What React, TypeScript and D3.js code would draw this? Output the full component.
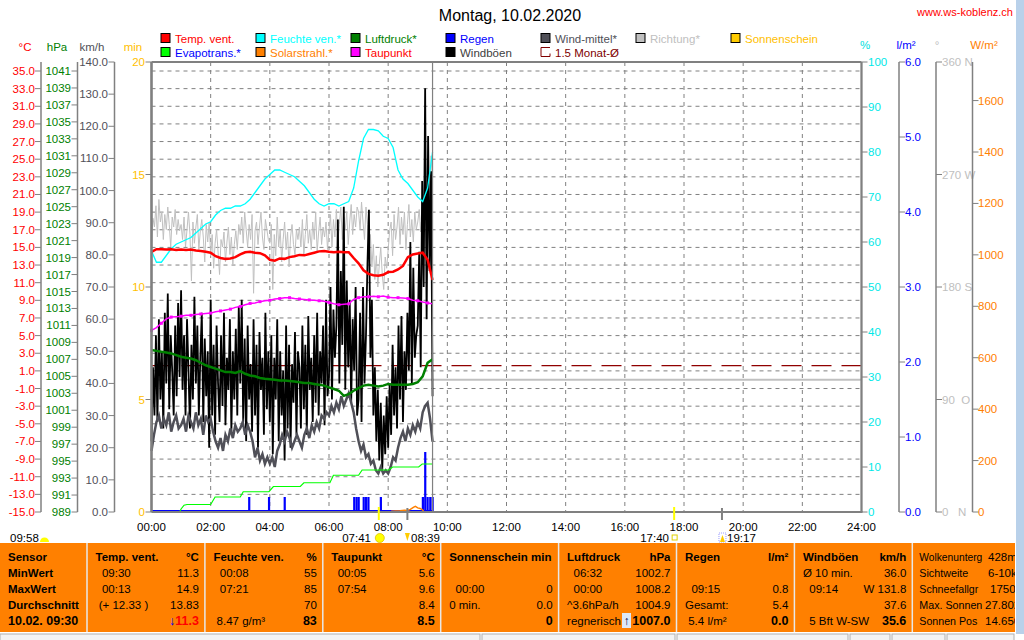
import React from "react";
import * as d3 from "d3";

const FONT = "'Liberation Sans', Arial, Helvetica, sans-serif";

// ---------------- DATA ----------------
const HOUR_TICKS = [0, 2, 4, 6, 8, 10, 12, 14, 16, 18, 20, 22, 24];
const HOUR_LABELS = ["00:00", "02:00", "04:00", "06:00", "08:00", "10:00", "12:00", "14:00", "16:00", "18:00", "20:00", "22:00", "24:00"];
const TEMP_TICKS = [35, 33, 31, 29, 27, 25, 23, 21, 19, 17, 15, 13, 11, 9, 7, 5, 3, 1, -1, -3, -5, -7, -9, -11, -13, -15];
const HPA_TICKS = [1041, 1039, 1037, 1035, 1033, 1031, 1029, 1027, 1025, 1023, 1021, 1019, 1017, 1015, 1013, 1011, 1009, 1007, 1005, 1003, 1001, 999, 997, 995, 993, 991, 989];
const KMH_TICKS = [140, 130, 120, 110, 100, 90, 80, 70, 60, 50, 40, 30, 20, 10, 0];
const MIN_TICKS = [20, 15, 10, 5, 0];
const HUM_TICKS = [100, 90, 80, 70, 60, 50, 40, 30, 20, 10, 0];
const RAIN_TICKS = [6, 5, 4, 3, 2, 1, 0];
const DIR_TICKS = [360, 270, 180, 90, 0];
const DIR_LABELS = ["360 N", "270 W", "180 S", "90  O", "0   N"];
const SOLAR_TICKS = [1600, 1400, 1200, 1000, 800, 600, 400, 200, 0];

// 10-minute series (00:00 .. 09:30)
const TEMP_10MIN = [14.5, 14.8, 14.8, 14.75, 14.8, 14.7, 14.75, 14.7, 14.75, 14.65, 14.6, 14.5,
  14.4, 14.0, 13.8, 13.7, 13.75, 13.9, 14.2, 14.45, 14.5, 14.4, 14.35, 14.1,
  13.6, 13.5, 13.75, 13.7, 13.9, 14.0, 14.15, 14.1, 14.25, 14.4, 14.55, 14.6,
  14.5, 14.45, 14.5, 14.45, 14.45, 13.8, 13.2, 12.4, 12.0, 11.85, 11.8, 11.9,
  12.2, 12.25, 12.5, 12.9, 13.9, 14.2, 14.3, 14.4, 13.6, 11.3];
const DEW_10MIN = [5.6, 5.9, 6.4, 6.9, 7.1, 7.15, 7.2, 7.3, 7.3, 7.4, 7.45, 7.5,
  7.55, 7.7, 7.8, 7.9, 8.0, 8.2, 8.3, 8.5, 8.65, 8.7, 8.85, 8.95,
  9.0, 9.15, 9.2, 9.3, 9.3, 9.2, 9.15, 9.1, 9.05, 9.0, 8.95, 8.9,
  8.75, 8.6, 8.5, 8.55, 8.6, 9.1, 9.3, 9.4, 9.4, 9.45, 9.4, 9.5,
  9.35, 9.3, 9.3, 9.25, 9.2, 9.0, 8.95, 8.8, 8.7, 8.6];
const HUM_10MIN = [58, 55.5, 55.5, 57, 58.5, 59.5, 60, 60.5, 61, 62, 63, 64,
  64.5, 66, 67, 67.5, 67.5, 68, 68, 68.5, 69.5, 71, 72.5, 74,
  75, 76, 76, 75.5, 75, 74.5, 73.5, 72.5, 71, 69.5, 68.5, 68,
  68.5, 68.5, 68, 68.5, 69, 72, 78, 83, 85, 85, 84.7, 83.5,
  83, 81, 76, 74, 73, 71.5, 70, 69, 72, 80];
const PRESS_10MIN = [1008.1, 1008.0, 1007.9, 1007.8, 1007.7, 1007.5, 1007.3, 1007.2, 1007.1, 1006.9, 1006.6, 1006.3,
  1006.1, 1005.9, 1005.7, 1005.5, 1005.5, 1005.4, 1005.6, 1005.3, 1005.1, 1005.0, 1004.8, 1004.7,
  1004.65, 1004.6, 1004.5, 1004.5, 1004.45, 1004.4, 1004.3, 1004.2, 1004.2, 1004.1, 1004.0, 1003.9,
  1003.7, 1003.5, 1003.3, 1002.7, 1002.9, 1003.3, 1003.6, 1003.9, 1004.0, 1003.9, 1003.8, 1003.9,
  1004.1, 1004.0, 1004.0, 1004.0, 1004.0, 1004.1, 1004.3, 1005.0, 1006.6, 1007.0];

// 3-minute wind gusts (km/h)
const GUST_3MIN = [
  22, 45, 30, 55, 28, 60, 35, 50, 26, 62, 40, 68, 32, 55, 44, 30, 58, 36, 65, 42,
  69, 38, 55, 30, 60, 44, 26, 52, 35, 67, 40, 58, 30, 48, 62, 28, 54, 36, 50, 20,
  66, 30, 52, 24, 58, 40, 28, 55, 33, 62, 27, 48, 38, 60, 25, 50, 35, 57, 30, 64,
  40, 66, 28, 54, 22, 58, 35, 46, 25, 60, 30, 52, 20, 56, 38, 48, 24, 62, 32, 50,
  28, 55, 18, 48, 35, 60, 22, 50, 30, 44, 16, 58, 26, 52, 20, 46, 34, 56, 24, 50,
  45, 26, 58, 32, 52, 24, 61, 38, 48, 28, 55, 34, 62, 30, 50, 40, 58, 27, 66, 36,
  42, 70, 35, 63, 48, 58, 91, 40, 75, 52, 95, 38, 72, 45, 66, 34, 60, 44, 70, 30,
  35, 62, 28, 70, 40, 55, 77, 94, 48, 66, 30, 45, 22, 38, 16, 34, 13, 30, 18, 36,
  20, 40, 24, 52, 30, 45, 26, 58, 35, 61, 28, 50, 38, 62, 44, 84, 40, 76, 48, 55,
  58, 81, 45, 103, 70, 131.8, 60, 117, 75, 106, 36];

// 5-minute mean wind (km/h)
const WINDMEAN_5MIN = [
  19, 24, 28, 30, 26, 29, 27, 31, 25, 28, 30, 26,
  27, 29, 25, 30, 28, 26, 31, 27, 29, 24, 30, 28,
  29, 25, 22, 20, 23, 19, 24, 22, 26, 23, 27, 25,
  26, 28, 24, 27, 25, 22, 17, 20, 16, 18, 15, 17,
  15, 17, 14, 19, 21, 24, 22, 25, 23, 20, 22, 24,
  22, 20, 24, 26, 23, 27, 25, 28, 26, 30, 29, 31,
  30, 33, 31, 34, 32, 36, 33, 35, 37, 34, 31, 26,
  22, 19, 21, 17, 18, 15, 16, 13, 12, 14, 12, 13,
  12, 14, 17, 16, 20, 23, 25, 22, 26, 24, 27, 25,
  28, 26, 31, 33, 34, 29, 22];

// 3-minute wind direction (deg)
const DIR_3MIN = [
  215, 235, 228, 245, 220, 250, 232, 240, 218, 238, 226, 244, 230, 212, 236, 228, 242, 222, 234, 225,
  230, 218, 236, 212, 226, 240, 222, 185, 232, 215, 228, 238, 210, 225, 234, 220, 200, 230, 216, 232,
  205, 222, 195, 215, 226, 208, 190, 218, 212, 224, 200, 216, 228, 206, 220, 198, 214, 225, 210, 230,
  222, 236, 215, 240, 226, 212, 230, 218, 238, 175, 225, 232, 214, 228, 240, 220, 210, 234, 226, 218,
  215, 230, 178, 222, 205, 236, 212, 226, 200, 218, 232, 210, 224, 196, 220, 230, 214, 206, 226, 218,
  228, 212, 234, 206, 222, 238, 215, 226, 210, 232, 218, 240, 208, 224, 236, 214, 228, 220, 232, 210,
  225, 238, 212, 234, 220, 242, 216, 230, 244, 218, 236, 226, 240, 214, 232, 246, 222, 238, 228, 244,
  240, 226, 248, 232, 218, 244, 230, 210, 222, 196, 214, 186, 205, 180, 198, 212, 190, 178, 204, 195,
  210, 225, 232, 205, 238, 218, 228, 244, 214, 236, 222, 240, 210, 230, 246, 220, 234, 216, 240, 226,
  232, 242, 224, 250, 238, 256, 240, 268, 250, 285, 262];

const RAIN_TIMES = [3.30, 3.97, 4.50, 6.85, 6.93, 7.00, 7.17, 7.25, 7.33, 7.75, 9.17, 9.25, 9.33, 9.42, 9.50];
const RAIN_VALUES = [0.2, 0.2, 0.2, 0.2, 0.2, 0.2, 0.2, 0.2, 0.2, 0.2, 0.2, 0.8, 0.2, 0.2, 0.2];

const EVAPO_TIMES = [0, 0.95, 1.0, 1.1, 1.2, 2.0, 2.15, 3.0, 3.1, 3.97, 4.12, 5.03, 5.15, 6.03, 6.15, 7.0, 7.12, 8.02, 8.15, 9.03, 9.15, 9.5];
const EVAPO_VALUES = [0, 0, 0.04, 0.09, 0.1, 0.1, 0.2, 0.2, 0.27, 0.27, 0.34, 0.34, 0.39, 0.39, 0.49, 0.49, 0.56, 0.56, 0.6, 0.6, 0.64, 0.64];

const SOLAR_TIMES = [8.1, 8.25, 8.4, 8.55, 8.65, 8.75, 8.85, 8.92, 9.0, 9.08, 9.15, 9.2];
const SOLAR_VALUES = [3, 4, 5, 7, 6, 10, 18, 22, 16, 14, 9, 4];

const TEMP_AVG_15M = 1.6; // 1.5 Monat-Ø (°C)
const PRESS_REF = 1004.6; // grey reference line (hPa)
const NOW_HOUR = 9.5;

const SUN_EVENTS = [7 + 41 / 60, 17 + 40 / 60];
const MOON_EVENTS = [8 + 39 / 60, 19 + 17 / 60];

const LEGEND_ROW1 = [
  { box: "#ff0000", label: "Temp. vent.", text: "#ff0000" },
  { box: "#00ffff", label: "Feuchte ven.*", text: "#00ffff" },
  { box: "#008000", label: "Luftdruck*", text: "#008000" },
  { box: "#0000ff", label: "Regen", text: "#0000ff" },
  { box: "#505058", label: "Wind-mittel*", text: "#505058" },
  { box: "#c0c0c0", label: "Richtung*", text: "#c0c0c0" },
  { box: "#ffcc00", label: "Sonnenschein", text: "#ffc000" },
];
const LEGEND_ROW2 = [
  { box: "#00ff00", label: "Evapotrans.*", text: "#0000ff" },
  { box: "#ff8000", label: "Solarstrahl.*", text: "#ff8000" },
  { box: "#ff00ff", label: "Taupunkt", text: "#ff0000" },
  { box: "#000000", label: "Windböen", text: "#404040" },
  { box: "none", label: "1.5 Monat-Ø", text: "#800000" },
];

const TABLE_HEADERS = ["Temp. vent.", "Feuchte ven.", "Taupunkt", "Sonnenschein min", "Luftdruck", "Regen", "Windböen"];
const TABLE_UNITS = ["°C", "%", "°C", "", "hPa", "l/m²", "km/h"];
const TABLE_ROWNAMES = ["Sensor", "MinWert", "MaxWert", "Durchschnitt", "10.02. 09:30"];
const TABLE_LEFT = [
  ["  09:30", "  00:13", " (+ 12.33 )", ""],
  ["  00:08", "  07:21", "", " 8.47 g/m³"],
  ["  00:05", "  07:54", "", ""],
  ["", "  00:00", "0 min.", ""],
  ["  06:32", "  00:00", "^3.6hPa/h", "regnerisch"],
  ["", "  09:15", "Gesamt:", " 5.4 l/m²"],
  ["Ø 10 min.", "  09:14", "", "  5 Bft W-SW"],
];
const TABLE_RIGHT = [
  ["11.3", "14.9", "13.83", "11.3"],
  ["55", "85", "70", "83"],
  ["5.6", "9.6", "8.4", "8.5"],
  ["", "0", "0.0", "0"],
  ["1002.7", "1008.2", "1004.9", "1007.0"],
  ["", "0.8", "5.4", "0.0"],
  ["36.0", "W 131.8", "37.6", "35.6"],
];
const EXTRA_NAMES = ["Wolkenunterg", "Sichtweite", "Schneefallgr", "Max. Sonnen", "Sonnen Pos"];
const EXTRA_VALUES = ["428m", "6-10km", "1750m", "27.802", "14.650"];

// layout (not data): rendered widths of the extra column labels
const EXTRA_NAME_WIDTHS = [63, 49, 59, 63, 58];
const EXTRA_VALUE_X = [988, 988, 990, 985, 985];

// ---------------- SCALES ----------------
const PL = 151.5, PR = 861.5, PT = 62, PB = 512;
const x = d3.scaleLinear().domain([0, 24]).range([PL, PR]);
const yT = d3.scaleLinear().domain([-15, 35]).range([PB, 71]);
const yP = d3.scaleLinear().domain([989, 1041]).range([PB, 71]);
const yK = d3.scaleLinear().domain([0, 140]).range([PB, PT]);
const yM = d3.scaleLinear().domain([0, 20]).range([PB, PT]);
const yH = d3.scaleLinear().domain([0, 100]).range([PB, PT]);
const yR = d3.scaleLinear().domain([0, 6]).range([PB, PT]);
const yD = d3.scaleLinear().domain([0, 360]).range([PB, PT]);
const yS = d3.scaleLinear().domain([0, 1750]).range([PB, PT]);

const regPath = (vals: number[], stepH: number, y: (v: number) => number) =>
  d3.line<number>().x((_, i) => x(i * stepH)).y((d) => y(d))(vals) || "";
const pairPath = (ts: number[], vs: number[], y: (v: number) => number) =>
  d3.line<number>().x((t) => x(t)).y((_, i) => y(vs[i]))(ts) || "";

const AX = "#808080";

function VAxis({ lx, ticks, labels, scale, color, side, labelX, top = PT }: any) {
  return (
    <g>
      <line x1={lx} x2={lx} y1={top} y2={PB} stroke={AX} strokeWidth={1.5} />
      {ticks.map((t: number, i: number) => {
        const yy = scale(t);
        return (
          <g key={i}>
            <line x1={side === "left" ? lx - 6 : lx} x2={side === "left" ? lx : lx + 6} y1={yy} y2={yy} stroke={AX} strokeWidth={1} />
            <text x={labelX} y={yy} fill={color} fontSize={11.5} textAnchor={side === "left" ? "end" : "start"}
              dominantBaseline="central" style={{ whiteSpace: "pre" }}>{labels[i]}</text>
          </g>
        );
      })}
    </g>
  );
}

export default function App() {
  const colX = (k: number) => (k === 0 ? 0 : 87 + (k - 1) * 117.9);
  const rowY = (r: number) => 557 + r * 16;

  return (
    <div style={{ position: "absolute", left: 0, top: 0 }}>
      <svg width={1024} height={640} style={{ display: "block", fontFamily: FONT }}>
        <rect x={0} y={0} width={1024} height={640} fill="#ffffff" />

        {/* Title */}
        <text x={510} y={21} fontSize={16} textAnchor="middle" fill="#000">Montag, 10.02.2020</text>
        <text x={1013} y={16} fontSize={11} textAnchor="end" fill="#ff0000">www.ws-koblenz.ch</text>

        {/* Legend */}
        {[LEGEND_ROW1, LEGEND_ROW2].map((row, ri) =>
          row.map((it, ci) => {
            const lx = 161 + ci * 95;
            const ly = 33.5 + ri * 14;
            return (
              <g key={`${ri}-${ci}`}>
                {it.box === "none" ? (
                  <path d={`M${lx + 9},${ly} H${lx} V${ly + 9} H${lx + 9} V${ly + 6}`} fill="none" stroke="#800000" strokeWidth={1} />
                ) : (
                  <rect x={lx} y={ly} width={9} height={9} fill={it.box} stroke="#000" strokeWidth={1} />
                )}
                <text x={lx + 14} y={ly + 5} fontSize={11.5} fill={it.text} dominantBaseline="central">{it.label}</text>
              </g>
            );
          })
        )}

        {/* Unit labels */}
        <g fontSize={11.5} dominantBaseline="central">
          <text x={25} y={47} fill="#ff0000" textAnchor="middle">°C</text>
          <text x={57} y={47} fill="#008000" textAnchor="middle">hPa</text>
          <text x={92} y={47} fill="#505058" textAnchor="middle">km/h</text>
          <text x={133} y={47} fill="#ffc000" textAnchor="middle">min</text>
          <text x={865} y={45} fill="#00e0e0" textAnchor="middle">%</text>
          <text x={906} y={45} fill="#0000ff" textAnchor="middle">l/m²</text>
          <text x={937} y={45} fill="#c0c0c0" textAnchor="middle">°</text>
          <text x={984} y={45} fill="#ff8000" textAnchor="middle">W/m²</text>
        </g>

        {/* Grid */}
        {TEMP_TICKS.filter((t) => t > -15).map((t, i) => (
          <line key={`hg${i}`} x1={PL} x2={PR} y1={yT(t)} y2={yT(t)} stroke="#808080" strokeWidth={1} strokeDasharray="4,4" />
        ))}
        {HOUR_TICKS.filter((h) => h > 0 && h < 24).map((h, i) => (
          <line key={`vg${i}`} x1={x(h)} x2={x(h)} y1={PT} y2={PB} stroke="#808080" strokeWidth={1} strokeDasharray="4,4" />
        ))}

        {/* reference lines */}
        <line x1={PL} x2={PR} y1={yP(PRESS_REF)} y2={yP(PRESS_REF)} stroke="#c0c0c0" strokeWidth={2} />
        <line x1={PL} x2={PR} y1={yT(TEMP_AVG_15M)} y2={yT(TEMP_AVG_15M)} stroke="#900000" strokeWidth={1.3} strokeDasharray="20,10" />

        {/* Series */}
        <path d={regPath(DIR_3MIN, 0.05, yD)} fill="none" stroke="#c0c0c0" strokeWidth={1} />
        <path d={regPath(GUST_3MIN, 0.05, yK)} fill="none" stroke="#000" strokeWidth={1.8} />
        <path d={regPath(WINDMEAN_5MIN, 1 / 12, yK)} fill="none" stroke="#505058" strokeWidth={2.5} />
        <line x1={x(0)} x2={x(NOW_HOUR)} y1={PB - 1} y2={PB - 1} stroke="#0000ff" strokeWidth={2} />
        {RAIN_TIMES.map((t, i) => (
          <rect key={`r${i}`} x={x(t) - 1} y={yR(RAIN_VALUES[i])} width={2.2} height={PB - yR(RAIN_VALUES[i])} fill="#0000ff" />
        ))}
        <path d={pairPath(EVAPO_TIMES, EVAPO_VALUES, yR)} fill="none" stroke="#00ff00" strokeWidth={1.2} />
        <path d={pairPath(SOLAR_TIMES, SOLAR_VALUES, yS)} fill="none" stroke="#ff8000" strokeWidth={1.5} />
        <path d={regPath(HUM_10MIN, 1 / 6, yH)} fill="none" stroke="#00ffff" strokeWidth={1.3} />
        <path d={regPath(DEW_10MIN, 1 / 6, yT)} fill="none" stroke="#ff00ff" strokeWidth={1.5} />
        {DEW_10MIN.map((v, i) => (i % 2 === 0 ? <rect key={`dm${i}`} x={x(i / 6) - 1.5} y={yT(v) - 1.5} width={3} height={3} fill="#ff00ff" /> : null))}
        <path d={regPath(PRESS_10MIN, 1 / 6, yP)} fill="none" stroke="#008000" strokeWidth={2.5} />
        <path d={regPath(TEMP_10MIN, 1 / 6, yT)} fill="none" stroke="#ff0000" strokeWidth={2.5} />

        {/* now line */}
        <line x1={x(NOW_HOUR)} x2={x(NOW_HOUR)} y1={PT} y2={PB} stroke="#808080" strokeWidth={1.2} />

        {/* Plot frame */}
        <line x1={PL} x2={PR} y1={PT} y2={PT} stroke={AX} strokeWidth={2} />
        <line x1={PL} x2={PR + 1} y1={PB} y2={PB} stroke={AX} strokeWidth={2} />
        <line x1={PL} x2={PL} y1={PT} y2={PB} stroke={AX} strokeWidth={2.5} />
        <line x1={PR} x2={PR} y1={PT} y2={PB} stroke={AX} strokeWidth={2} />

        {/* Left axes */}
        <VAxis lx={41} ticks={TEMP_TICKS} labels={TEMP_TICKS.map((t) => t.toFixed(1))} scale={yT} color="#ff0000" side="left" labelX={35} />
        <VAxis lx={77.5} ticks={HPA_TICKS} labels={HPA_TICKS.map(String)} scale={yP} color="#008000" side="left" labelX={71} />
        <VAxis lx={114.5} ticks={KMH_TICKS} labels={KMH_TICKS.map((t) => t.toFixed(1))} scale={yK} color="#505058" side="left" labelX={108} />
        <VAxis lx={PL} ticks={MIN_TICKS} labels={MIN_TICKS.map(String)} scale={yM} color="#ffc000" side="left" labelX={145} />

        {/* Right axes */}
        <VAxis lx={PR} ticks={HUM_TICKS} labels={HUM_TICKS.map(String)} scale={yH} color="#00e8e8" side="right" labelX={868} />
        <VAxis lx={899} ticks={RAIN_TICKS} labels={RAIN_TICKS.map((t) => t.toFixed(1))} scale={yR} color="#0000ff" side="right" labelX={905} />
        <VAxis lx={936} ticks={DIR_TICKS} labels={DIR_LABELS} scale={yD} color="#c0c0c0" side="right" labelX={942} />
        <VAxis lx={972.5} ticks={SOLAR_TICKS} labels={SOLAR_TICKS.map(String)} scale={yS} color="#ff8000" side="right" labelX={978} />

        {/* X axis labels */}
        {HOUR_TICKS.map((h, i) => (
          <text key={`xl${i}`} x={x(h)} y={527} fontSize={11.5} textAnchor="middle" dominantBaseline="central" fill="#000">{HOUR_LABELS[i]}</text>
        ))}

        {/* sun / moon markers */}
        {SUN_EVENTS.map((h, i) => (
          <line key={`se${i}`} x1={x(h)} x2={x(h)} y1={507} y2={520} stroke="#ffff00" strokeWidth={2} />
        ))}
        {MOON_EVENTS.map((h, i) => (
          <line key={`me${i}`} x1={x(h)} x2={x(h)} y1={508} y2={520} stroke="#808080" strokeWidth={2} />
        ))}
        <g fontSize={11.5} dominantBaseline="central" fill="#000">
          <text x={10} y={538}>09:58</text>
          <path d="M40,542 A4.5,4.5 0 0 1 49,542 Z" fill="#ffff00" />
          <text x={371} y={538} textAnchor="end">07:41</text>
          <circle cx={x(SUN_EVENTS[0]) + 1} cy={538} r={4.5} fill="#ffff00" stroke="#e0c000" strokeWidth={0.8} />
          <path d={`M${x(MOON_EVENTS[0]) - 2.5},533 l2.5,8 l2.5,-8 Z`} fill="#ffcc00" />
          <text x={411} y={538}>08:39</text>
          <text x={669} y={538} textAnchor="end">17:40</text>
          <rect x={x(SUN_EVENTS[1]) - 2} y={535} width={5} height={5} fill="none" stroke="#e0d000" strokeWidth={1} />
          <rect x={x(MOON_EVENTS[1]) - 3} y={533} width={7} height={9} fill="none" stroke="#8080ff" strokeWidth={0.8} strokeDasharray="1,1" />
          <path d={`M${x(MOON_EVENTS[1]) - 2},542 l2.5,-7 l2.5,7 Z`} fill="#ffcc00" />
          <text x={727} y={538}>19:17</text>
        </g>

        {/* Table */}
        <defs>
          <clipPath id="tbl">
            <rect x={0} y={540} width={1015} height={95} />
          </clipPath>
        </defs>
        <g clipPath="url(#tbl)">
          <rect x={0} y={543} width={1016} height={89} fill="#ff8000" />
          {[1, 2, 3, 4, 5, 6, 7, 8].map((k) => (
            <line key={`cs${k}`} x1={colX(k)} x2={colX(k)} y1={543} y2={632} stroke="#e8e8e8" strokeWidth={1.5} />
          ))}
          {TABLE_ROWNAMES.map((n, r) => (
            <text key={`rn${r}`} x={8} y={rowY(r)} fontSize={r === 4 ? 12.5 : 11.5} fontWeight="bold" dominantBaseline="central" fill="#000">{n}</text>
          ))}
          {TABLE_HEADERS.map((hd, c) => {
            const cx0 = colX(c + 1);
            const cx1 = colX(c + 2);
            return (
              <g key={`tc${c}`} fontSize={11.5} fill="#000" dominantBaseline="central">
                <text x={cx0 + 8.5} y={rowY(0)} fontWeight="bold">{hd}</text>
                <text x={cx1 - 6} y={rowY(0)} fontWeight="bold" textAnchor="end">{TABLE_UNITS[c]}</text>
                {TABLE_LEFT[c].map((s, r) => (
                  <text key={`l${r}`} x={cx0 + 8.5} y={rowY(r + 1)} style={{ whiteSpace: "pre" }}>{s}</text>
                ))}
                {TABLE_RIGHT[c].map((s, r) =>
                  c === 0 && r === 3 ? (
                    <text key={`r${r}`} x={cx1 - 6} y={rowY(r + 1)} textAnchor="end" fontWeight="bold" fontSize={12.5}>
                      <tspan fill="#0000ff">↓</tspan>
                      <tspan fill="#ff0000">{s}</tspan>
                    </text>
                  ) : (
                    <text key={`r${r}`} x={cx1 - 6} y={rowY(r + 1)} textAnchor="end" fontWeight={r === 3 ? "bold" : "normal"} fontSize={r === 3 ? 12.5 : 11.5}>{s}</text>
                  )
                )}
              </g>
            );
          })}
          {/* pressure trend icon */}
          <rect x={622} y={613} width={9} height={15} fill="#dde8f8" />
          <text x={626.5} y={621} fontSize={12} fontWeight="bold" textAnchor="middle" dominantBaseline="central" fill="#000040">↑</text>
          {EXTRA_NAMES.map((n, r) => (
            <g key={`ex${r}`} fontSize={11.5} dominantBaseline="central" fill="#000">
              <text x={colX(8) + 7} y={rowY(r)} textLength={EXTRA_NAME_WIDTHS[r]} lengthAdjust="spacingAndGlyphs">{n}</text>
              <text x={EXTRA_VALUE_X[r]} y={rowY(r)}>{EXTRA_VALUES[r]}</text>
            </g>
          ))}
        </g>

        {/* status bar */}
        <rect x={0} y={634} width={480} height={8} fill="#f4f4f4" stroke="#b0b0b0" strokeWidth={1} />
        <rect x={482} y={634} width={193} height={8} fill="#f4f4f4" stroke="#b0b0b0" strokeWidth={1} />
        <rect x={677} y={634} width={171} height={8} fill="#f4f4f4" stroke="#b0b0b0" strokeWidth={1} />
        <rect x={850} y={634} width={40} height={8} fill="#f4f4f4" stroke="#b0b0b0" strokeWidth={1} />
        <rect x={892} y={634} width={53} height={8} fill="#f4f4f4" stroke="#b0b0b0" strokeWidth={1} />
        <rect x={947} y={634} width={67} height={8} fill="#f4f4f4" stroke="#b0b0b0" strokeWidth={1} />

        {/* scrollbar strip */}
        <rect x={1016} y={0} width={8} height={634} fill="#b9d1ea" />
      </svg>
    </div>
  );
}
